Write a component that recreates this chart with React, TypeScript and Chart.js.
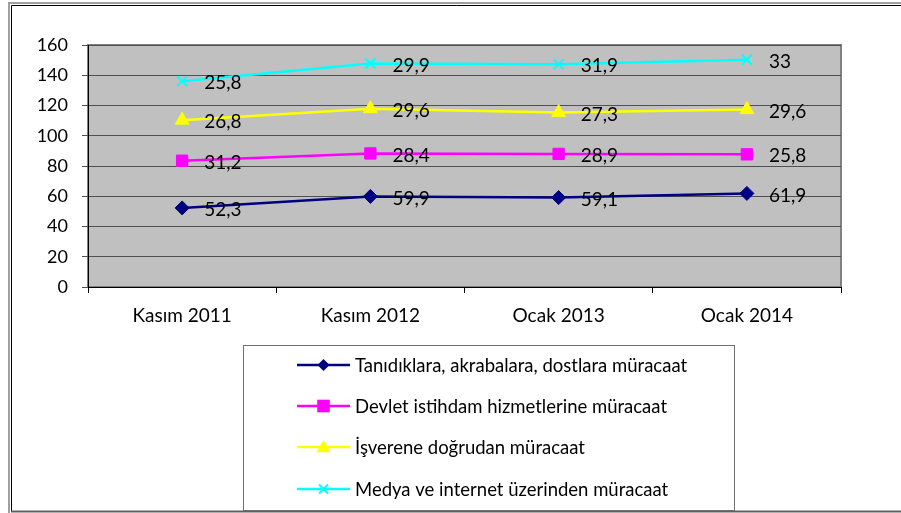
import React, { useEffect, useRef } from "react";
import { Chart, registerables } from "chart.js";

Chart.register(...registerables);

const categories = ["Kasım 2011", "Kasım 2012", "Ocak 2013", "Ocak 2014"];
const seriesNames = [
  "Tanıdıklara, akrabalara, dostlara müracaat",
  "Devlet istihdam hizmetlerine müracaat",
  "İşverene doğrudan müracaat",
  "Medya ve internet üzerinden müracaat",
];
const tanidiklara = [52.3, 59.9, 59.1, 61.9];
const devlet = [31.2, 28.4, 28.9, 25.8];
const isverene = [26.8, 29.6, 27.3, 29.6];
const medya = [25.8, 29.9, 31.9, 33];
const yMin = 0;
const yMax = 160;
const yStep = 20;

const colors = ["#000080", "#FF00FF", "#FFFF00", "#00FFFF"];
const pointStyles = ["rectRot", "rect", "triangle", "crossRot"];
const pointRadii = [7, 8, 8, 7];
const FONT = "Lato, 'Open Sans', sans-serif";

function drawMarker(ctx: CanvasRenderingContext2D, style: string, x: number, y: number, r: number, color: string) {
  ctx.save();
  ctx.fillStyle = color;
  ctx.strokeStyle = color;
  ctx.lineWidth = 2;
  ctx.beginPath();
  if (style === "rectRot") {
    ctx.moveTo(x, y - r);
    ctx.lineTo(x + r, y);
    ctx.lineTo(x, y + r);
    ctx.lineTo(x - r, y);
    ctx.closePath();
    ctx.fill();
  } else if (style === "rect") {
    const s = r * 0.9;
    ctx.rect(x - s, y - s, 2 * s, 2 * s);
    ctx.fill();
  } else if (style === "triangle") {
    ctx.moveTo(x, y - r);
    ctx.lineTo(x + r, y + r * 0.75);
    ctx.lineTo(x - r, y + r * 0.75);
    ctx.closePath();
    ctx.fill();
  } else {
    const s = r * 0.75;
    ctx.moveTo(x - s, y - s);
    ctx.lineTo(x + s, y + s);
    ctx.moveTo(x + s, y - s);
    ctx.lineTo(x - s, y + s);
    ctx.stroke();
  }
  ctx.restore();
}

const framePlugin = {
  id: "framePlugin",
  beforeDraw(chart: any) {
    const { ctx, chartArea } = chart;
    ctx.save();
    ctx.fillStyle = "#ffffff";
    ctx.fillRect(0, 0, chart.width, chart.height);
    // outer frame
    ctx.strokeStyle = "#a0a0a0";
    ctx.lineWidth = 2;
    ctx.beginPath();
    ctx.moveTo(9, 513);
    ctx.lineTo(9, 3);
    ctx.lineTo(901, 3);
    ctx.stroke();
    ctx.strokeStyle = "#000000";
    ctx.lineWidth = 1;
    ctx.beginPath();
    ctx.moveTo(11.5, 511.5);
    ctx.lineTo(11.5, 5.5);
    ctx.lineTo(901, 5.5);
    ctx.stroke();
    ctx.strokeStyle = "#606060";
    ctx.lineWidth = 2;
    ctx.beginPath();
    ctx.moveTo(11, 511.5);
    ctx.lineTo(901, 511.5);
    ctx.stroke();
    // plot area
    ctx.fillStyle = "#C0C0C0";
    ctx.fillRect(chartArea.left, chartArea.top, chartArea.right - chartArea.left, chartArea.bottom - chartArea.top);
    ctx.strokeStyle = "#808080";
    ctx.lineWidth = 2;
    ctx.strokeRect(chartArea.left, chartArea.top, chartArea.right - chartArea.left, chartArea.bottom - chartArea.top);
    ctx.restore();
  },
  afterDraw(chart: any) {
    const { ctx } = chart;
    ctx.save();
    // legend box
    ctx.strokeStyle = "#707070";
    ctx.lineWidth = 1;
    ctx.strokeRect(243.5, 345.5, 491, 165);
    ctx.fillStyle = "#000000";
    ctx.font = `18.5px ${FONT}`;
    ctx.textBaseline = "middle";
    ctx.textAlign = "left";
    const rowsY = [365, 406, 447, 489];
    seriesNames.forEach((name, i) => {
      const y = rowsY[i];
      ctx.strokeStyle = colors[i];
      ctx.lineWidth = 2.5;
      ctx.beginPath();
      ctx.moveTo(297, y);
      ctx.lineTo(350, y);
      ctx.stroke();
      drawMarker(ctx, pointStyles[i], 323.5, y, pointRadii[i] - 1, colors[i]);
      ctx.fillStyle = "#000000";
      ctx.fillText(name, 355, y + 1);
    });
    ctx.restore();
  },
};

const labelPlugin = {
  id: "labelPlugin",
  afterDatasetsDraw(chart: any) {
    const { ctx } = chart;
    ctx.save();
    ctx.font = `19px ${FONT}`;
    ctx.fillStyle = "#000000";
    ctx.textAlign = "left";
    ctx.textBaseline = "middle";
    chart.data.datasets.forEach((ds: any, di: number) => {
      const meta = chart.getDatasetMeta(di);
      meta.data.forEach((pt: any, i: number) => {
        const v = ds.data[i];
        const txt = String(v).replace(".", ",");
        ctx.fillText(txt, pt.x + 22, pt.y + 2);
      });
    });
    ctx.restore();
  },
};

export default function App() {
  const ref = useRef<HTMLCanvasElement>(null);
  useEffect(() => {
    if (!ref.current) return;
    const series = [tanidiklara, devlet, isverene, medya];
    const chart = new Chart(ref.current, {
      type: "line",
      data: {
        labels: categories,
        datasets: series.map((d, i) => ({
          label: seriesNames[i],
          data: d,
          borderColor: colors[i],
          backgroundColor: colors[i],
          borderWidth: 2.5,
          pointStyle: pointStyles[i] as any,
          pointRadius: pointRadii[i],
          pointBorderWidth: i === 3 ? 2 : 1,
          pointBackgroundColor: colors[i],
          pointBorderColor: colors[i],
          fill: false,
          tension: 0,
          stack: "s",
        })),
      },
      options: {
        responsive: false,
        animation: false,
        devicePixelRatio: 1,
        layout: { padding: { top: 45, right: 60, left: 0, bottom: 0 } },
        plugins: {
          legend: { display: false },
          tooltip: { enabled: false },
          title: { display: false },
        },
        scales: {
          x: {
            type: "category",
            offset: true,
            grid: {
              offset: true,
              drawOnChartArea: false,
              drawTicks: true,
              tickLength: 6,
              color: "#000000",
            },
            border: { display: true, color: "#000000", width: 1 },
            ticks: {
              color: "#000000",
              font: { family: FONT, size: 19 },
              padding: 11,
              maxRotation: 0,
            },
            afterFit(scale: any) {
              scale.height = 226;
            },
          },
          y: {
            type: "linear",
            stacked: true,
            min: yMin,
            max: yMax,
            grid: {
              color: "#505050",
              lineWidth: 1,
              drawTicks: true,
              tickLength: 6,
            },
            border: { display: true, color: "#000000", width: 1 },
            ticks: {
              stepSize: yStep,
              color: "#000000",
              font: { family: FONT, size: 18 },
              padding: 14,
            },
            afterFit(scale: any) {
              scale.width = 88;
            },
          },
        },
      },
      plugins: [framePlugin, labelPlugin],
    });
    return () => chart.destroy();
  }, []);
  return (
    <div style={{ position: "absolute", left: 0, top: 0, width: 901, height: 513 }}>
      <canvas ref={ref} width={901} height={513} style={{ display: "block" }} />
    </div>
  );
}
